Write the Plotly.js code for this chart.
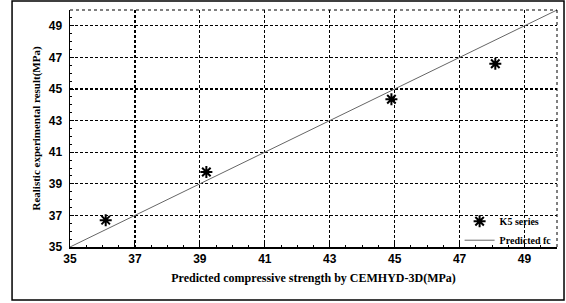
<!DOCTYPE html>
<html><head><meta charset="utf-8">
<script src="https://cdn.plot.ly/plotly-3.0.1.min.js"></script>
<style>html,body{margin:0;padding:0;background:#fff}#c{width:566px;height:303px}</style>
</head><body><div id="c"></div>
<script>
const predicted = [36.1, 39.2, 44.9, 48.1];
const measured = [36.7, 39.75, 44.35, 46.6];
const lineX = [35, 50];
const lineY = [35, 50];
const tickVals = [35, 37, 39, 41, 43, 45, 47, 49];

const serif = 'Liberation Serif, Times New Roman, serif';
const traces = [
  {x: predicted, y: measured, mode: 'markers', name: '<b>K5 series</b>', type: 'scatter',
   marker: {symbol: 'asterisk-open', size: 10, color: '#000', line: {color: '#000', width: 2}}},
  {x: lineX, y: lineY, mode: 'lines', name: '<b>Predicted fc</b>', type: 'scatter',
   line: {color: '#666', width: 1}}
];
const axisCommon = {
  range: [35, 50], tickvals: tickVals, showgrid: true, gridcolor: '#000', griddash: '3px,2px', gridwidth: 1.2,
  zeroline: false, showline: true, linecolor: '#000', linewidth: 1.5, mirror: false,
  ticks: 'inside', ticklen: 4, tickcolor: '#000',
  minor: {ticks: 'inside', ticklen: 2, dtick: 0.5, tickcolor: '#000', showgrid: false},
  tickfont: {family: 'Liberation Sans, Arial, sans-serif', size: 12, color: '#000', weight: 'bold'}
};
const layout = {
  width: 566, height: 303,
  margin: {l: 70, r: 9, t: 10, b: 56},
  paper_bgcolor: '#fff', plot_bgcolor: '#fff',
  showlegend: true,
  legend: {x: 0.80, y: 0.17, xanchor: 'left', yanchor: 'top', bgcolor: 'rgba(0,0,0,0)',
    font: {family: serif, size: 10, color: '#000'}, tracegroupgap: 0, itemwidth: 30},
  xaxis: Object.assign({}, axisCommon, {
    title: {text: '<b>Predicted compressive strength by CEMHYD-3D(MPa)</b>', font: {family: serif, size: 12, color: '#000'}, standoff: 8}
  }),
  yaxis: Object.assign({}, axisCommon, {
    ticklabelstandoff: 4,
    title: {text: '<b>Realistic experimental result(MPa)</b>', font: {family: serif, size: 11, color: '#000'}, standoff: 6}
  }),
  shapes: [
    {type: 'rect', xref: 'paper', yref: 'paper', x0: -0.119, x1: 1.0144, y0: -0.224, y1: 1.038,
     line: {color: '#000', width: 1.5}},
    {type: 'line', xref: 'paper', yref: 'paper', x0: 0, x1: 1, y0: 1, y1: 1, line: {color: '#000', width: 1, dash: 'dot'}},
    {type: 'line', xref: 'paper', yref: 'paper', x0: 1, x1: 1, y0: 0, y1: 1, line: {color: '#000', width: 1, dash: 'dot'}}
  ]
};
Plotly.newPlot('c', traces, layout, {staticPlot: true});
</script></body></html>
